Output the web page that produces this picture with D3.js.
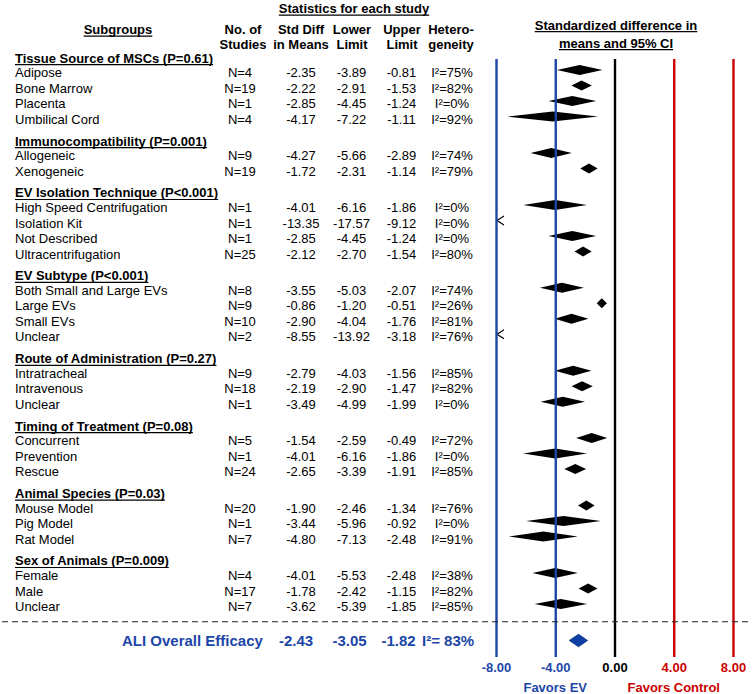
<!DOCTYPE html>
<html><head><meta charset="utf-8">
<script src="https://cdn.jsdelivr.net/npm/d3@7"></script>
<style>body{margin:0;background:#fff}svg{display:block}</style>
</head><body><svg id="c" width="752" height="694"></svg>
<script>
// ---------- data ----------
const groups = ["Tissue Source of MSCs (P=0.61)","Immunocompatibility (P=0.001)","EV Isolation Technique (P<0.001)","EV Subtype (P<0.001)","Route of Administration (P=0.27)","Timing of Treatment (P=0.08)","Animal Species (P=0.03)","Sex of Animals (P=0.009)"];
const subgroups = ["Adipose","Bone Marrow","Placenta","Umbilical Cord",
  "Allogeneic","Xenogeneic",
  "High Speed Centrifugation","Isolation Kit","Not Described","Ultracentrifugation",
  "Both Small and Large EVs","Large EVs","Small EVs","Unclear",
  "Intratracheal","Intravenous","Unclear",
  "Concurrent","Prevention","Rescue",
  "Mouse Model","Pig Model","Rat Model",
  "Female","Male","Unclear"];
const groupIndex = [0,0,0,0, 1,1, 2,2,2,2, 3,3,3,3, 4,4,4, 5,5,5, 6,6,6, 7,7,7];
const studies = [4,19,1,4, 9,19, 1,1,1,25, 8,9,10,2, 9,18,1, 5,1,24, 20,1,7, 4,17,7];
const stdDiff = [-2.35,-2.22,-2.85,-4.17, -4.27,-1.72, -4.01,-13.35,-2.85,-2.12, -3.55,-0.86,-2.90,-8.55, -2.79,-2.19,-3.49, -1.54,-4.01,-2.65, -1.90,-3.44,-4.80, -4.01,-1.78,-3.62];
const lowerLimit = [-3.89,-2.91,-4.45,-7.22, -5.66,-2.31, -6.16,-17.57,-4.45,-2.70, -5.03,-1.20,-4.04,-13.92, -4.03,-2.90,-4.99, -2.59,-6.16,-3.39, -2.46,-5.96,-7.13, -5.53,-2.42,-5.39];
const upperLimit = [-0.81,-1.53,-1.24,-1.11, -2.89,-1.14, -1.86,-9.12,-1.24,-1.54, -2.07,-0.51,-1.76,-3.18, -1.56,-1.47,-1.99, -0.49,-1.86,-1.91, -1.34,-0.92,-2.48, -2.48,-1.15,-1.85];
const heterogeneity = [75,82,0,92, 74,79, 0,0,0,80, 74,26,81,76, 85,82,0, 72,0,85, 76,0,91, 38,82,85];
const overallLabel = "ALI Overall Efficacy";
const overall = [-2.43, -3.05, -1.82];
const overallI2 = 83;
const tickValues = [-8,-4,0,4,8];
const favorLabels = ["Favors EV","Favors Control"];

// ---------- setup ----------
const FONT = '"Liberation Sans", Arial, Helvetica, sans-serif';
const BLUE = '#1c46a8', RED = '#cc0000';
const svg = d3.select('#c');
svg.append('rect').attr('width',752).attr('height',694).attr('fill','#fff');

const x = d3.scaleLinear().domain([-8,8]).range([496,733]);
const tickColor = d => d < 0 ? BLUE : (d > 0 ? RED : '#000');

function txt(px, cy, s, o = {}) {
  const size = o.size || 13;
  const t = svg.append('text')
    .attr('x', px).attr('y', cy + 0.36*size)
    .attr('text-anchor', o.anchor || 'start')
    .attr('font-family', FONT).attr('font-size', size)
    .attr('font-weight', o.bold ? 'bold' : 'normal')
    .attr('fill', o.color || '#000')
    .text(s);
  if (o.underline) {
    const len = t.node().getComputedTextLength();
    let x0 = px;
    if (o.anchor === 'middle') x0 = px - len/2;
    else if (o.anchor === 'end') x0 = px - len;
    svg.append('line').attr('x1', x0).attr('x2', x0+len)
      .attr('y1', cy + 0.36*size + 2).attr('y2', cy + 0.36*size + 2)
      .attr('stroke', o.color || '#000').attr('stroke-width', 1.2);
  }
  return t;
}

// ---------- headers ----------
txt(354, 8.5, "Statistics for each study", {bold:true, anchor:'middle', underline:true});
txt(118, 29.5, "Subgroups", {bold:true, anchor:'middle', underline:true});
const colHead = [[243,"No. of","Studies"],[301,"Std Diff","in Means"],[352,"Lower","Limit"],[402,"Upper","Limit"],[451,"Hetero-","geneity"]];
colHead.forEach(c => { txt(c[0], 29, c[1], {bold:true, anchor:'middle'}); txt(c[0], 44, c[2], {bold:true, anchor:'middle'}); });
txt(616, 25, "Standardized difference in", {bold:true, anchor:'middle', underline:true});
txt(616, 43, "means and 95% CI", {bold:true, anchor:'middle', underline:true});

// ---------- rows layout ----------
const rows = [];
let y = 58;
groups.forEach((g, gi) => {
  if (gi > 0) y += 21.8;
  rows.push({type:'h', label:g, y});
  subgroups.forEach((s, i) => {
    if (groupIndex[i] !== gi) return;
    y += rows[rows.length-1].type === 'h' ? 14.6 : 15.5;
    rows.push({type:'d', i, y});
  });
});

const gMarks = svg.append('g');
rows.forEach(r => {
  if (r.type === 'h') {
    txt(15, r.y, r.label, {bold:true, underline:true});
    return;
  }
  const i = r.i;
  txt(15, r.y, subgroups[i]);
  txt(240, r.y, "N=" + studies[i], {anchor:'middle'});
  txt(301, r.y, stdDiff[i].toFixed(2), {anchor:'middle'});
  txt(351.5, r.y, lowerLimit[i].toFixed(2), {anchor:'middle'});
  txt(401.5, r.y, upperLimit[i].toFixed(2), {anchor:'middle'});
  txt(452, r.y, "I\u00B2=" + heterogeneity[i] + "%", {anchor:'middle'});
  const dy = r.y - 2.5;
  if (stdDiff[i] < -8) {
    const ax = x(-8);
    gMarks.append('path')
      .attr('d', `M${ax+8},${dy-4.5}L${ax+1},${dy}L${ax+8},${dy+4.5}`)
      .attr('fill','none').attr('stroke','#000').attr('stroke-width',1.2);
  } else {
    const lo = Math.max(lowerLimit[i], -8), hi = Math.min(upperLimit[i], 8);
    gMarks.append('path')
      .attr('d', `M${x(lo)},${dy}L${x(stdDiff[i])},${dy-5}L${x(hi)},${dy}L${x(stdDiff[i])},${dy+5}Z`)
      .attr('fill','#000');
  }
});

// ---------- overall ----------
const oy = 640.5;
gMarks.append('path')
  .attr('d', `M${x(overall[1])},${oy}L${x(overall[0])},${oy-6.3}L${x(overall[2])},${oy}L${x(overall[0])},${oy+6.3}Z`)
  .attr('fill','#0d3fa6').attr('stroke','#082e7a').attr('stroke-width',0.8);
txt(122, oy, overallLabel, {size:15, bold:true, color:BLUE});
txt(296, oy, overall[0].toFixed(2), {size:15, bold:true, color:BLUE, anchor:'middle'});
txt(349.5, oy, overall[1].toFixed(2), {size:15, bold:true, color:BLUE, anchor:'middle'});
txt(398.5, oy, overall[2].toFixed(2), {size:15, bold:true, color:BLUE, anchor:'middle'});
txt(422, oy, "I\u00B2= " + overallI2 + "%", {size:15, bold:true, color:BLUE});

// ---------- axis & reference lines ----------
const yTop = 59, yBot = 657;
const axis = d3.axisBottom(x).tickValues(tickValues).tickFormat(d => d.toFixed(2))
  .tickSizeInner(-(yBot - yTop)).tickSizeOuter(0).tickPadding(5.3);
const gAx = svg.append('g').attr('transform', `translate(0,${yBot})`).call(axis);
gAx.select('.domain').remove();
gAx.selectAll('.tick line').attr('stroke', tickColor).attr('stroke-width', 2.4);
gAx.selectAll('.tick text').attr('fill', tickColor)
  .attr('font-family', FONT).attr('font-size', 13).attr('font-weight','bold');

// dashed separator
svg.append('line').attr('x1', 2).attr('x2', 752).attr('y1', 621.7).attr('y2', 621.7)
  .attr('stroke', '#222').attr('stroke-width', 1.1).attr('stroke-dasharray', '6,4');

// favors labels
txt(x(-4), 687, favorLabels[0], {bold:true, anchor:'middle', color:BLUE});
txt(x(4), 687, favorLabels[1], {bold:true, anchor:'middle', color:RED});
</script>
</body></html>
